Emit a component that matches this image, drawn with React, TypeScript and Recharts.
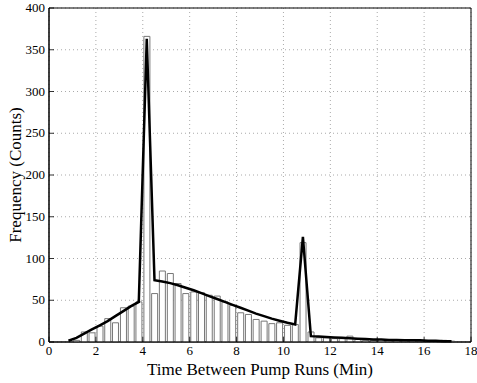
import { ComposedChart, Bar, Line, XAxis, YAxis, CartesianGrid, ReferenceArea, Label } from 'recharts';

// bin centres (min), histogram counts and fitted curve
const binCenters = [
  0.83, 1.17, 1.5, 1.83, 2.17, 2.5, 2.83, 3.17, 3.5, 3.83,
  4.17, 4.5, 4.83, 5.17, 5.5, 5.83, 6.17, 6.5, 6.83, 7.17,
  7.5, 7.83, 8.17, 8.5, 8.83, 9.17, 9.5, 9.83, 10.17, 10.5,
  10.83, 11.17, 11.5, 11.83, 12.17, 12.5, 12.83, 13.17, 13.5, 13.83,
  14.17, 14.5, 14.83, 15.17, 15.5, 15.83, 16.17, 16.5, 16.83, 17.17,
];
const counts = [
  0, 2, 12, 11, 19, 28, 23, 41, 43, 48,
  366, 58, 85, 82, 70, 58, 60, 59, 56, 55,
  48, 44, 35, 33, 27, 25, 22, 23, 20, 21,
  119, 12, 5, 5, 4, 4, 7, 3, 2, 2,
  3, 2, 2, 2, 3, 1, 1, 1, 2, 1,
];
const fitted = [
  1.5, 5, 10, 15, 20, 25, 31, 37, 43, 48,
  363, 74, 72.5, 70.5, 68, 65, 62, 58.5, 55, 51.5,
  48, 44.5, 41, 37.5, 34, 31, 28, 25.5, 23, 21,
  126, 7, 6.5, 6, 5.5, 5, 4.5, 4, 3.5, 3,
  3, 2.5, 2.5, 2, 2, 2, 1.5, 1.5, 1, 1,
];
const xTicks = [0, 2, 4, 6, 8, 10, 12, 14, 16, 18];
const yTicks = [0, 50, 100, 150, 200, 250, 300, 350, 400];

const data = binCenters.map((t, i) => ({ t, count: counts[i], fit: fitted[i] }));

const font = '"Liberation Serif", "Times New Roman", serif';
const tickStyle = { fill: '#000', fontSize: 13, fontFamily: font };

// MATLAB-style: small inward tick plus label
function XTick(props: any) {
  const { x, y, payload } = props;
  return (
    <g>
      <line x1={x} x2={x} y1={y - 2} y2={y - 7} stroke="#000" strokeWidth={0.8} />
      <text x={x} y={y + 11} textAnchor="middle" style={tickStyle}>
        {payload.value}
      </text>
    </g>
  );
}

function YTick(props: any) {
  const { x, y, payload } = props;
  return (
    <g>
      <line x1={x + 4} x2={x + 9} y1={y} y2={y} stroke="#000" strokeWidth={0.8} />
      <text x={x} y={y + 4} textAnchor="end" style={tickStyle}>
        {payload.value}
      </text>
    </g>
  );
}

export default function App() {
  return (
    <div style={{ position: 'absolute', left: 0, top: 0, background: '#fff' }}>
      <ComposedChart
        width={477}
        height={383}
        data={data}
        margin={{ top: 8, right: 6, bottom: 0, left: 0 }}
      >
        <CartesianGrid stroke="#aaa" strokeDasharray="1 3" />
        <XAxis
          dataKey="t"
          type="number"
          domain={[0, 18]}
          ticks={xTicks}
          height={41}
          tickSize={2}
          tickMargin={0}
          tickLine={false}
          stroke="#000"
          tick={XTick}
          interval={0}
        >
          <Label
            value="Time Between Pump Runs (Min)"
            position="insideBottom"
            offset={8}
            style={{ fill: '#000', fontSize: 17, fontFamily: font }}
          />
        </XAxis>
        <YAxis
          type="number"
          domain={[0, 400]}
          ticks={yTicks}
          width={49}
          tickSize={4}
          tickMargin={0}
          tickLine={false}
          stroke="#000"
          tick={YTick}
          interval={0}
        >
          <Label
            content={() => (
              <text
                x={15}
                y={175}
                transform="rotate(-90 15 175)"
                textAnchor="middle"
                dominantBaseline="central"
                style={{ fill: '#000', fontSize: 17, fontFamily: font }}
              >
                Frequency (Counts)
              </text>
            )}
          />
        </YAxis>
        <ReferenceArea x1={0} x2={18} y1={0} y2={400} fill="none" stroke="#000" strokeWidth={1} ifOverflow="visible" />
        <Bar dataKey="count" barSize={6} fill="#fff" stroke="#777" strokeWidth={1} isAnimationActive={false} />
        <Line
          dataKey="fit"
          type="linear"
          stroke="#000"
          strokeWidth={2.5}
          dot={false}
          isAnimationActive={false}
        />
      </ComposedChart>
    </div>
  );
}
